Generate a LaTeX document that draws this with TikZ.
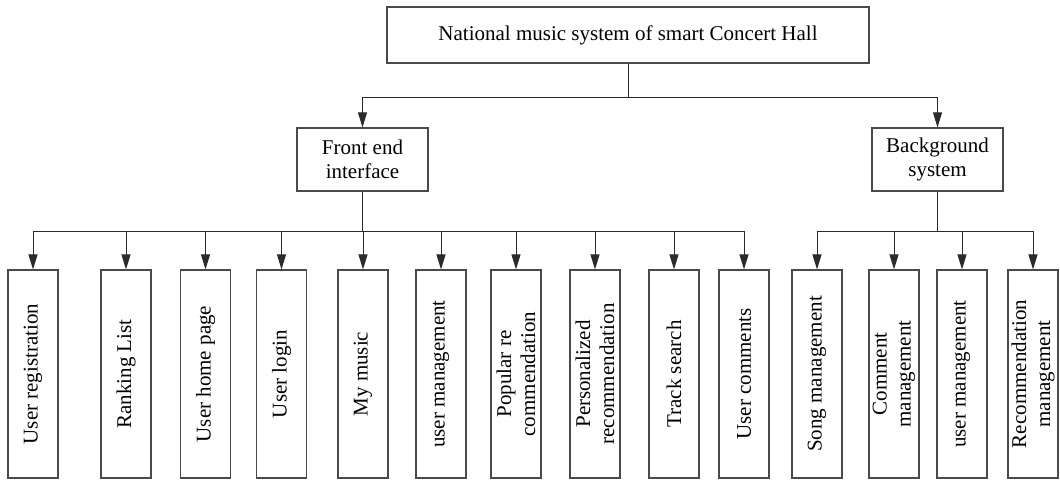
\documentclass[tikz,border=0pt]{standalone}
\usepackage{fontspec}
\setmainfont{Liberation Serif}
\usetikzlibrary{arrows.meta,positioning}
\definecolor{HallLine}{HTML}{2B2B2B}
\definecolor{HallBorder}{HTML}{4A4A4A}

\begin{document}
\begin{tikzpicture}[x=0.5pt,y=-0.5pt]
    \tikzset{hallbox/.style={draw=HallBorder,line width=0.6pt,align=center,inner sep=1pt,font=\fontsize{10.5}{12}\selectfont},
      leafbox/.style={hallbox,rotate=90,minimum width=104pt,minimum height=25pt},
      treearrow/.style={-{Triangle[length=7.5pt,width=4.5pt]},HallLine,line width=0.5pt}}
    \useasboundingbox (0,0) rectangle (1060,479);
    \node[hallbox,minimum width=241pt,minimum height=28pt] (root) at (628,35) {National music system of smart Concert Hall};
    \node[hallbox,minimum width=65.5pt,minimum height=31.5pt] (front) at (362.5,159.5) {Front end\\interface};
    \node[hallbox,minimum width=65.5pt,minimum height=31.5pt] (back) at (937.5,159.5) {Background\\system};
    % front end leaves
    \node[leafbox] (reg) at (33,374) {User registration};
    \node[leafbox] (rank) at (126,374) {Ranking List};
    \node[leafbox] (home) at (205.5,374) {User home page};
    \node[leafbox] (login) at (281.5,374) {User login};
    \node[leafbox] (mymusic) at (363,374) {My music};
    \node[leafbox] (usermgf) at (441,374) {user management};
    \node[leafbox] (popular) at (516,374) {Popular re\\commendation};
    \node[leafbox] (personal) at (595,374) {Personalized\\recommendation};
    \node[leafbox] (track) at (674,374) {Track search};
    \node[leafbox] (ucomment) at (744,374) {User comments};
    % background leaves
    \node[leafbox] (song) at (817,374) {Song management};
    \node[leafbox] (commgmt) at (894,374) {Comment\\management};
    \node[leafbox] (usermgb) at (962,374) {user management};
    \node[leafbox] (recmgmt) at (1033,374) {Recommendation\\management};
    \coordinate (rootjoin) at (root.south |- 0,97);
    \coordinate (frontjoin) at (front.south |- 0,231);
    \coordinate (backjoin) at (back.south |- 0,231);
    \draw[HallLine,line width=0.5pt] (root.south) -- (rootjoin);
    \draw[treearrow] (rootjoin) -| (front.north);
    \draw[treearrow] (rootjoin) -| (back.north);
    \draw[HallLine,line width=0.5pt] (front.south) -- (frontjoin);
    \draw[HallLine,line width=0.5pt] (back.south) -- (backjoin);
    \draw[treearrow] (frontjoin) -| (reg.east);
    \draw[treearrow] (frontjoin) -| (rank.east);
    \draw[treearrow] (frontjoin) -| (home.east);
    \draw[treearrow] (frontjoin) -| (login.east);
    \draw[treearrow] (frontjoin) -| (mymusic.east);
    \draw[treearrow] (frontjoin) -| (usermgf.east);
    \draw[treearrow] (frontjoin) -| (popular.east);
    \draw[treearrow] (frontjoin) -| (personal.east);
    \draw[treearrow] (frontjoin) -| (track.east);
    \draw[treearrow] (frontjoin) -| (ucomment.east);
    \draw[treearrow] (backjoin) -| (song.east);
    \draw[treearrow] (backjoin) -| (commgmt.east);
    \draw[treearrow] (backjoin) -| (usermgb.east);
    \draw[treearrow] (backjoin) -| (recmgmt.east);
  \end{tikzpicture}
\end{document}
